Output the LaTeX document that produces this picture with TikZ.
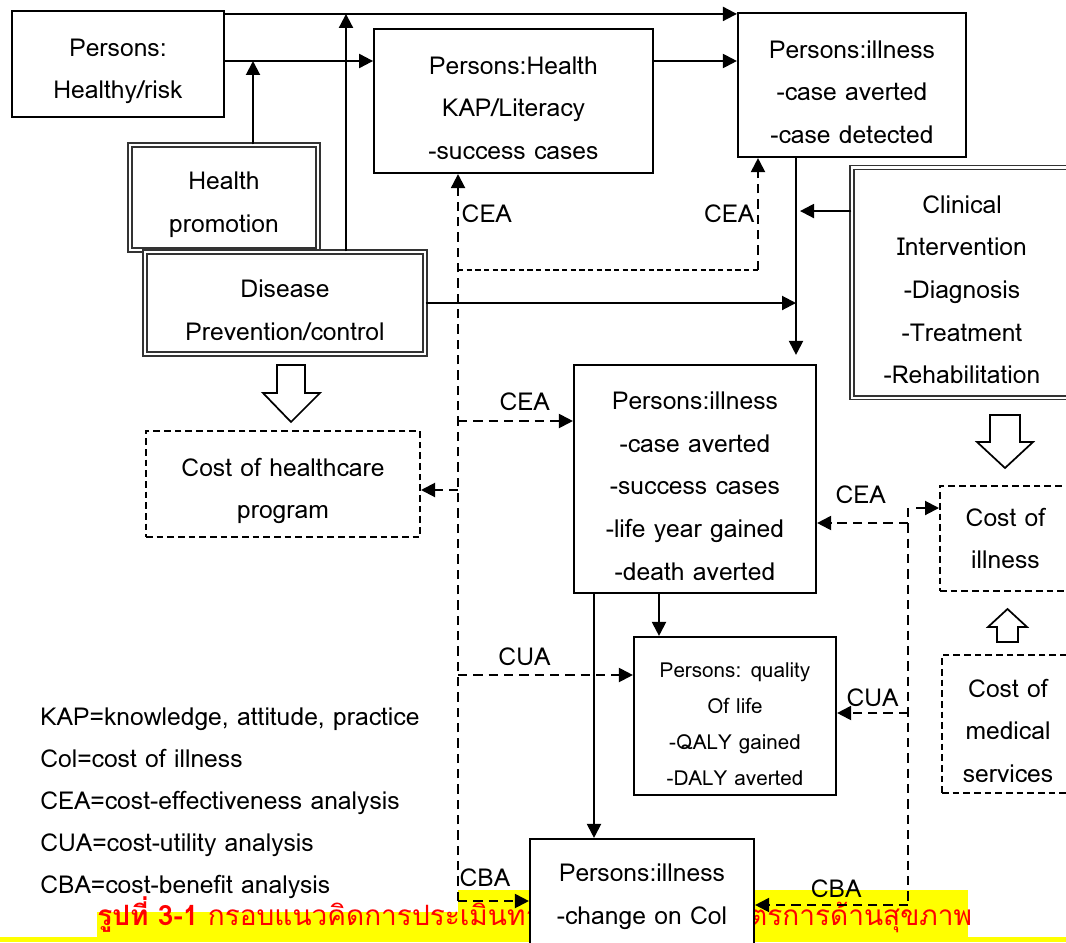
\documentclass[tikz,border=0pt]{standalone}
\usepackage{fontspec}
\setmainfont{Loma}[Script=Thai]
\usetikzlibrary{arrows.meta}
\definecolor{capyellow}{RGB}{255,255,0}
\def\boxfont{\fontsize{18.5}{32}\selectfont}
\def\smallfont{\fontsize{15.5}{27}\selectfont}
\def\keyfont{\fontsize{18.5}{31.5}\selectfont}
\def\capfont{\fontsize{21}{25}\selectfont}
\def\lift{\rule{0pt}{24pt}}
\tikzstyle{plain} = [draw,line width=1.6pt,rectangle,fill=white,align=center,inner sep=0,font=\boxfont]
\tikzstyle{twin} = [draw=black!80,double,double distance=2pt,line width=0.9pt,rectangle,fill=white,align=center,inner sep=0,font=\boxfont]
\tikzstyle{costbox} = [draw,line width=1.5pt,dash pattern=on 5pt off 3pt,rectangle,fill=white,align=center,inner sep=0,font=\boxfont]
\tikzstyle{flow} = [-{Triangle[length=10.5pt,width=10.5pt]},line width=1.5pt]
\tikzstyle{dflow} = [flow,dash pattern=on 7pt off 4.5pt]
\tikzstyle{dline} = [line width=1.5pt,dash pattern=on 7pt off 4.5pt]
\tikzstyle{thinline} = [line width=0.9pt,dash pattern=on 4pt off 2.5pt]
\tikzstyle{lbl} = [font=\boxfont,inner sep=2pt]
\tikzstyle{bigarrow} = [draw,line width=1.3pt,fill=white,line join=miter]

\begin{document}
\begin{tikzpicture}[x=0.75pt,y=-0.75pt]
  \useasboundingbox (0,0) rectangle (1066,942);
  \clip (0,0) rectangle (1066,942);

  % caption band
  \fill[capyellow] (97,912) rectangle (968,937);
  \fill[capyellow] (458,890) rectangle (968,912);
  \fill[capyellow] (0,937) rectangle (1066,942);
  \node[font=\capfont,text=red,anchor=base west,inner sep=0] (cap) at (97,925)
    {\textbf{รูปที่ 3-1} กรอบแนวคิดการประเมินทางเศรษฐศาสตร์มาตรการด้านสุขภาพ};

  % boxes
  \node[plain,minimum width=159pt,minimum height=79.5pt] (pA) at (118,64) {\lift Persons:\\Healthy/risk};
  \node[plain,minimum width=209pt,minimum height=108pt] (pB) at (513.5,101) {\lift Persons:Health\\KAP/Literacy\\-success cases};
  \node[plain,minimum width=171pt,minimum height=108pt] (pC) at (852,85) {\lift Persons:illness\\-case averted\\-case detected};
  \node[twin,minimum width=141pt,minimum height=78.75pt] (pD) at (224,197.5) {\lift Health\\promotion};
  \node[twin,minimum width=210pt,minimum height=76.5pt] (pE) at (285,303) {\lift Disease\\Prevention/control};
  \node[twin,minimum width=165pt,minimum height=173pt] (pF) at (962,282.5) {\lift Clinical\\Intervention\\-Diagnosis\\-Treatment\\-Rehabilitation};
  \node[costbox,minimum width=205.5pt,minimum height=79.5pt] (pG) at (283,484) {\lift Cost of healthcare\\program};
  \node[plain,minimum width=181.5pt,minimum height=171pt] (pH) at (695,479) {\lift Persons:illness\\-case averted\\-success cases\\-life year gained\\-death averted};
  \node[costbox,minimum width=98.25pt,minimum height=78.75pt] (pI) at (1005.5,538.5) {Cost of\\illness};
  \node[costbox,minimum width=99pt,minimum height=103.5pt] (pJ) at (1008,724) {\lift Cost of\\medical\\services};
  \node[plain,font=\smallfont,minimum width=151.5pt,minimum height=118.5pt] (pK) at (735,716) {\lift Persons: quality\\Of life\\-QALY gained\\-DALY averted};
  \node[plain,minimum width=168pt,minimum height=87pt] (pL) at (642,897) {Persons:illness\\-change on Col};

  % key
  \node[font=\keyfont,inner sep=0,align=left,anchor=west] (key) at (40,803.5) {KAP=knowledge, attitude, practice\\Col=cost of illness\\CEA=cost-effectiveness analysis\\CUA=cost-utility analysis\\CBA=cost-benefit analysis};

  % solid flows
  \draw[flow] ([yshift=-3pt]pA.north east) coordinate (top) -- (top -| pC.west);
  \draw[flow] ([yshift=2.25pt]pA.east) coordinate (ab) -- (ab -| pB.west);
  \draw[flow] ([xshift=21.75pt]pD.north) -- ([xshift=21.75pt]pD.north |- ab);
  \draw[flow] ([xshift=45.75pt]pE.north) -- ([xshift=45.75pt]pE.north |- top);
  \draw[flow] (pB.east |- ab) -- (pC.west |- ab);
  \draw[flow,shorten >=6.75pt] ([xshift=-42pt]pC.south) coordinate (cd) -- (cd |- pH.north);
  \draw[flow,shorten >=3pt] ([yshift=53.6pt]pF.west) -- ([yshift=53.6pt]pF.west -| cd);
  \draw[flow] (pE.east) -- (pE.east -| cd);
  \draw[flow] ([xshift=-27pt]pH.south) -- ([xshift=-27pt]pH.south |- pK.north);
  \draw[flow] ([xshift=-75.75pt]pH.south) -- ([xshift=-75.75pt]pH.south |- pL.north);

  % left dashed trunk
  \coordinate (ltop) at ([xshift=-41.6pt]pB.south);
  \coordinate (lw) at ([yshift=-3pt]pL.west);
  \coordinate (hw) at ([yshift=43.5pt]pH.west);
  \coordinate (gw) at ([yshift=-4.5pt]pG.east);
  \coordinate (kw) at ([yshift=30.75pt]pK.west);
  \coordinate (ce) at ([xshift=-70.5pt]pC.south);
  \coordinate (cbend) at (458,270);
  \draw[dflow] (ltop |- lw) -- (ltop) node[lbl,right,pos=.945] {CEA};
  \draw[dflow] (ltop |- lw) -- (lw) node[lbl,above=8pt,pos=.38] {CBA};
  \draw[dflow] (ltop |- hw) -- (hw) node[lbl,above=5pt,pos=.58] {CEA};
  \draw[dflow] (ltop |- gw) -- (gw);
  \draw[dflow] (ltop |- kw) -- (kw) node[lbl,above=4.5pt,pos=.38] {CUA};
  \draw[thinline] (cbend) -- (cbend -| ce);
  \draw[dflow] (cbend -| ce) -- (ce) node[lbl,left,midway] {CEA};

  % right dashed trunk
  \coordinate (rtop) at (908,508);
  \coordinate (he) at ([yshift=-33pt]pH.east);
  \coordinate (ke) at ([yshift=2.25pt]pK.east);
  \coordinate (le) at ([yshift=-6pt]pL.east);
  \draw[dline] (rtop) -- (rtop |- le);
  \draw[dflow] ([xshift=6pt]rtop) -- (rtop -| pI.west);
  \draw[dflow] (rtop |- he) -- (he) node[lbl,above=12pt,pos=.52] {CEA};
  \draw[dflow] (rtop |- ke) -- (ke) node[lbl,above=2pt,midway] {CUA};
  \draw[dflow] (rtop |- le) -- (le) node[lbl,above=3pt,pos=.47] {CBA};

  % hollow block arrows
  \draw[bigarrow] (277,365) -- (305,365) -- (305,393) -- (320,393) -- (291,422) -- (263,393) -- (277,393) -- cycle;
  \draw[bigarrow] (990,415) -- (1020,415) -- (1020,442) -- (1033,442) -- (1005,468) -- (977,442) -- (990,442) -- cycle;
  \draw[bigarrow] (997,642) -- (1018,642) -- (1018,627) -- (1027,627) -- (1007.5,609) -- (988,627) -- (997,627) -- cycle;
\end{tikzpicture}
\end{document}
